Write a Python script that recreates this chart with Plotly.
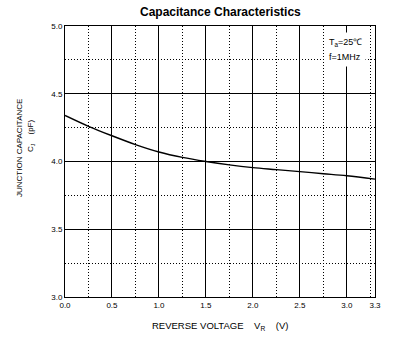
import plotly.graph_objects as go

# Junction capacitance vs reverse voltage (Ta=25°C, f=1MHz)
reverse_voltage = [0.0, 0.25, 0.5, 0.75, 1.0, 1.25, 1.5, 1.75, 2.0, 2.25, 2.5, 2.75, 3.0, 3.3]
capacitance_pf = [4.34, 4.26, 4.19, 4.125, 4.07, 4.03, 4.0, 3.975, 3.955, 3.94, 3.925, 3.91, 3.895, 3.87]

x_ticks = [0.0, 0.5, 1.0, 1.5, 2.0, 2.5, 3.0, 3.3]
x_tick_labels = ["0.0", "0.5", "1.0", "1.5", "2.0", "2.5", "3.0", "3.3"]
y_ticks = [3.0, 3.5, 4.0, 4.5, 5.0]
y_tick_labels = ["3.0", "3.5", "4.0", "4.5", "5.0"]

FONT = "Liberation Sans, Arial, sans-serif"
DOTS = "1px,2px"

fig = go.Figure()
fig.add_trace(go.Scatter(
    x=reverse_voltage, y=capacitance_pf, mode="lines",
    line=dict(color="black", width=1.4, shape="spline", smoothing=1.0),
    showlegend=False, hoverinfo="skip",
))

axis_common = dict(
    showline=True, linecolor="black", linewidth=1, mirror=True,
    showgrid=True, gridcolor="black", gridwidth=1,
    ticks="", zeroline=False,
    tickfont=dict(family=FONT, size=8, color="black"),
)

fig.update_xaxes(
    range=[0, 3.3], tickmode="array", tickvals=x_ticks, ticktext=x_tick_labels,
    minor=dict(dtick=0.25, tick0=0.25, showgrid=True, gridcolor="black",
               griddash=DOTS, gridwidth=1),
    **axis_common,
)
fig.update_yaxes(
    range=[3.0, 5.0], tickmode="array", tickvals=y_ticks, ticktext=y_tick_labels,
    minor=dict(dtick=0.25, tick0=3.25, showgrid=True, gridcolor="black",
               griddash=DOTS, gridwidth=1),
    **axis_common,
)

annotations = [
    dict(text="<b>Capacitance Characteristics</b>", xref="paper", yref="paper",
         x=0.5, y=1.0, yshift=14, xanchor="center", yanchor="middle",
         showarrow=False, font=dict(family=FONT, size=12, color="black")),
    dict(text="REVERSE VOLTAGE    V<sub>R</sub>    (V)", xref="paper", yref="paper",
         x=0.5, y=0, yshift=-29, xanchor="center", yanchor="middle",
         showarrow=False, font=dict(family=FONT, size=9.5, color="black")),
    dict(text="JUNCTION CAPACITANCE", xref="paper", yref="paper",
         x=0, xshift=-46, y=0, yshift=149, xanchor="center", yanchor="middle",
         textangle=-90, showarrow=False,
         font=dict(family=FONT, size=8, color="black")),
    dict(text="C<sub>J</sub>    (pF)", xref="paper", yref="paper",
         x=0, xshift=-34, y=0, yshift=161, xanchor="center", yanchor="middle",
         textangle=-90, showarrow=False,
         font=dict(family=FONT, size=8, color="black")),
    # test conditions, on white so the grid stays behind them
    dict(text="T<sub>a</sub>=25℃", xref="paper", yref="paper",
         x=1, xshift=-30, y=1, yshift=-16, xanchor="center", yanchor="middle",
         bgcolor="white", borderpad=4,
         showarrow=False, font=dict(family=FONT, size=9, color="black")),
    dict(text="f=1MHz", xref="paper", yref="paper",
         x=1, xshift=-30, y=1, yshift=-31, xanchor="center", yanchor="middle",
         bgcolor="white", borderpad=4,
         showarrow=False, font=dict(family=FONT, size=9, color="black")),
]

fig.update_layout(
    width=401, height=340,
    margin=dict(l=65, r=26, t=26, b=43),
    paper_bgcolor="white", plot_bgcolor="white",
    annotations=annotations,
)

fig.write_html("out.html")
